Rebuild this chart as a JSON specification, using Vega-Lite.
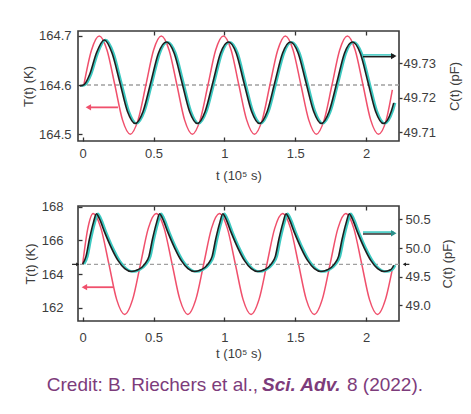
{
  "$schema": "https://vega.github.io/schema/vega-lite/v6.json",
  "background": "white",
  "padding": {"left": 21, "top": 29, "right": 0, "bottom": 0},
  "bounds": "flush",
  "spacing": 65,
  "config": {
    "font": "Liberation Sans",
    "view": {"stroke": "#3a3a3a", "strokeWidth": 1.6},
    "axis": {"domain": false, "grid": false, "labelOverlap": false, "labelFont": "Liberation Sans", "titleFont": "Liberation Sans", "labelFontSize": 13, "titleFontSize": 13, "labelColor": "#3d3d3d", "titleColor": "#3d3d3d", "tickColor": "#333333", "tickWidth": 1.3, "titleFontWeight": "normal"}
  },
  "datasets": {
    "topRef": [{"T": 164.6}],
    "topT": [
      {"t": 0.008, "T": 164.6}, {"t": 0.062, "T": 164.671}, {"t": 0.117, "T": 164.7}, {"t": 0.172, "T": 164.671}, {"t": 0.227, "T": 164.6}, {"t": 0.281, "T": 164.529}, {"t": 0.336, "T": 164.5}, {"t": 0.391, "T": 164.529},
      {"t": 0.446, "T": 164.6}, {"t": 0.5, "T": 164.671}, {"t": 0.555, "T": 164.7}, {"t": 0.61, "T": 164.671}, {"t": 0.665, "T": 164.6}, {"t": 0.719, "T": 164.529}, {"t": 0.774, "T": 164.5}, {"t": 0.829, "T": 164.529},
      {"t": 0.884, "T": 164.6}, {"t": 0.938, "T": 164.671}, {"t": 0.993, "T": 164.7}, {"t": 1.048, "T": 164.671}, {"t": 1.102, "T": 164.6}, {"t": 1.157, "T": 164.529}, {"t": 1.212, "T": 164.5}, {"t": 1.267, "T": 164.529},
      {"t": 1.321, "T": 164.6}, {"t": 1.376, "T": 164.671}, {"t": 1.43, "T": 164.7}, {"t": 1.485, "T": 164.671}, {"t": 1.54, "T": 164.6}, {"t": 1.595, "T": 164.529}, {"t": 1.649, "T": 164.5}, {"t": 1.704, "T": 164.529},
      {"t": 1.759, "T": 164.6}, {"t": 1.813, "T": 164.671}, {"t": 1.868, "T": 164.7}, {"t": 1.923, "T": 164.671}, {"t": 1.978, "T": 164.6}, {"t": 2.032, "T": 164.529}, {"t": 2.087, "T": 164.5}, {"t": 2.142, "T": 164.529},
      {"t": 2.185, "T": 164.59}
    ],
    "topC": [
      {"t": -0.02, "C": 49.7234}, {"t": 0.01, "C": 49.7238}, {"t": 0.05, "C": 49.7268}, {"t": 0.097, "C": 49.733}, {"t": 0.152, "C": 49.7368},
      {"t": 0.207, "C": 49.733}, {"t": 0.262, "C": 49.7245}, {"t": 0.316, "C": 49.716}, {"t": 0.371, "C": 49.7125}, {"t": 0.426, "C": 49.716}, {"t": 0.481, "C": 49.7245}, {"t": 0.535, "C": 49.733}, {"t": 0.59, "C": 49.7362},
      {"t": 0.645, "C": 49.733}, {"t": 0.7, "C": 49.7245}, {"t": 0.754, "C": 49.716}, {"t": 0.809, "C": 49.7125}, {"t": 0.864, "C": 49.716}, {"t": 0.919, "C": 49.7245}, {"t": 0.973, "C": 49.733}, {"t": 1.028, "C": 49.7362},
      {"t": 1.083, "C": 49.733}, {"t": 1.137, "C": 49.7245}, {"t": 1.192, "C": 49.716}, {"t": 1.247, "C": 49.7125}, {"t": 1.302, "C": 49.716}, {"t": 1.356, "C": 49.7245}, {"t": 1.411, "C": 49.733}, {"t": 1.465, "C": 49.7362},
      {"t": 1.52, "C": 49.733}, {"t": 1.575, "C": 49.7245}, {"t": 1.63, "C": 49.716}, {"t": 1.684, "C": 49.7125}, {"t": 1.739, "C": 49.716}, {"t": 1.794, "C": 49.7245}, {"t": 1.848, "C": 49.733}, {"t": 1.903, "C": 49.7362},
      {"t": 1.958, "C": 49.733}, {"t": 2.013, "C": 49.7245}, {"t": 2.067, "C": 49.716}, {"t": 2.122, "C": 49.7125}, {"t": 2.177, "C": 49.716}, {"t": 2.195, "C": 49.7185}
    ],
    "topArrT": [{"head": 0.04, "tail": 0.249, "T": 164.5545}],
    "topArrC": [{"head": 2.195, "tail": 1.978, "C": 49.7321}],
    "botRef": [{"T": 164.58}],
    "botT": [
      {"t": 0.0, "T": 164.6}, {"t": 0.036, "T": 166.7}, {"t": 0.073, "T": 167.6}, {"t": 0.129, "T": 166.72}, {"t": 0.185, "T": 164.6}, {"t": 0.24, "T": 162.48}, {"t": 0.296, "T": 161.6}, {"t": 0.352, "T": 162.48},
      {"t": 0.408, "T": 164.6}, {"t": 0.463, "T": 166.72}, {"t": 0.519, "T": 167.6}, {"t": 0.575, "T": 166.72}, {"t": 0.631, "T": 164.6}, {"t": 0.686, "T": 162.48}, {"t": 0.742, "T": 161.6}, {"t": 0.798, "T": 162.48},
      {"t": 0.854, "T": 164.6}, {"t": 0.909, "T": 166.72}, {"t": 0.965, "T": 167.6}, {"t": 1.021, "T": 166.72}, {"t": 1.077, "T": 164.6}, {"t": 1.132, "T": 162.48}, {"t": 1.188, "T": 161.6}, {"t": 1.244, "T": 162.48},
      {"t": 1.3, "T": 164.6}, {"t": 1.355, "T": 166.72}, {"t": 1.411, "T": 167.6}, {"t": 1.467, "T": 166.72}, {"t": 1.523, "T": 164.6}, {"t": 1.578, "T": 162.48}, {"t": 1.634, "T": 161.6}, {"t": 1.69, "T": 162.48},
      {"t": 1.746, "T": 164.6}, {"t": 1.801, "T": 166.72}, {"t": 1.857, "T": 167.6}, {"t": 1.913, "T": 166.72}, {"t": 1.969, "T": 164.6}, {"t": 2.024, "T": 162.48}, {"t": 2.08, "T": 161.6}, {"t": 2.136, "T": 162.48},
      {"t": 2.185, "T": 164.3}
    ],
    "botC": [
      {"t": 0.0, "C": 49.72}, {"t": 0.024, "C": 49.86}, {"t": 0.047, "C": 50.15}, {"t": 0.076, "C": 50.45}, {"t": 0.097, "C": 50.6},
      {"t": 0.117, "C": 50.52}, {"t": 0.156, "C": 50.27}, {"t": 0.203, "C": 50.0}, {"t": 0.25, "C": 49.78}, {"t": 0.297, "C": 49.64}, {"t": 0.343, "C": 49.59}, {"t": 0.389, "C": 49.62}, {"t": 0.438, "C": 49.72}, {"t": 0.468, "C": 49.86}, {"t": 0.492, "C": 50.15}, {"t": 0.522, "C": 50.45}, {"t": 0.543, "C": 50.6},
      {"t": 0.563, "C": 50.52}, {"t": 0.602, "C": 50.27}, {"t": 0.649, "C": 50.0}, {"t": 0.696, "C": 49.78}, {"t": 0.743, "C": 49.64}, {"t": 0.789, "C": 49.59}, {"t": 0.835, "C": 49.62}, {"t": 0.884, "C": 49.72}, {"t": 0.914, "C": 49.86}, {"t": 0.938, "C": 50.15}, {"t": 0.968, "C": 50.45}, {"t": 0.989, "C": 50.6},
      {"t": 1.009, "C": 50.52}, {"t": 1.048, "C": 50.27}, {"t": 1.095, "C": 50.0}, {"t": 1.142, "C": 49.78}, {"t": 1.189, "C": 49.64}, {"t": 1.235, "C": 49.59}, {"t": 1.281, "C": 49.62}, {"t": 1.33, "C": 49.72}, {"t": 1.36, "C": 49.86}, {"t": 1.384, "C": 50.15}, {"t": 1.414, "C": 50.45}, {"t": 1.435, "C": 50.6},
      {"t": 1.455, "C": 50.52}, {"t": 1.494, "C": 50.27}, {"t": 1.541, "C": 50.0}, {"t": 1.588, "C": 49.78}, {"t": 1.635, "C": 49.64}, {"t": 1.681, "C": 49.59}, {"t": 1.727, "C": 49.62}, {"t": 1.776, "C": 49.72}, {"t": 1.806, "C": 49.86}, {"t": 1.83, "C": 50.15}, {"t": 1.86, "C": 50.45}, {"t": 1.881, "C": 50.6},
      {"t": 1.901, "C": 50.52}, {"t": 1.94, "C": 50.27}, {"t": 1.987, "C": 50.0}, {"t": 2.034, "C": 49.78}, {"t": 2.081, "C": 49.64}, {"t": 2.127, "C": 49.59}, {"t": 2.173, "C": 49.62}, {"t": 2.195, "C": 49.7}
    ],
    "botArrT": [{"head": 0.012, "tail": 0.214, "T": 163.22}],
    "botArrC": [{"head": 2.195, "tail": 1.978, "C": 50.259}],
    "botMarkL": [{"head": -0.035, "tail": -0.075, "T": 164.58}],
    "botMarkR": [{"head": 2.27, "tail": 2.305, "T": 164.58}]
  },
  "vconcat": [
    {
      "width": 321, "height": 110,
      "resolve": {"scale": {"y": "independent"}, "axis": {"x": "independent"}},
      "layer": [
        {"layer": [
          {"data": {"name": "topRef"}, "mark": {"type": "rule", "color": "#a0a0a0", "strokeDash": [4, 3], "strokeWidth": 1.3},
           "encoding": {"y": {"field": "T", "type": "quantitative", "scale": {"domain": [164.486, 164.71], "nice": false, "zero": false},
             "axis": {"orient": "left", "values": [164.5, 164.6, 164.7], "format": ".1f", "labelOverlap": false, "tickSize": -4, "labelPadding": 11, "titlePadding": 3, "title": "T(t) (K)"}}}},
          {"data": {"name": "topT"}, "mark": {"type": "line", "color": "#f0506c", "strokeWidth": 1.5, "interpolate": "monotone"},
           "encoding": {"x": {"field": "t", "type": "quantitative", "scale": {"domain": [-0.033, 2.232], "nice": false, "zero": false},
             "axis": {"orient": "bottom", "values": [0, 0.5, 1, 1.5, 2], "format": "~g", "labelOverlap": false, "tickSize": -4, "labelPadding": 10, "titlePadding": 9, "title": "t (10⁵ s)"}},
             "y": {"field": "T", "type": "quantitative"}}},
          {"data": {"name": "topArrT"}, "mark": {"type": "rule", "color": "#f0506c", "strokeWidth": 1.8},
           "encoding": {"x": {"field": "head", "type": "quantitative"}, "x2": {"field": "tail"}, "y": {"field": "T", "type": "quantitative"}}},
          {"data": {"name": "topArrT"}, "mark": {"type": "point", "shape": "triangle-left", "filled": true, "opacity": 1, "color": "#f0506c", "size": 40},
           "encoding": {"x": {"field": "head", "type": "quantitative"}, "y": {"field": "T", "type": "quantitative"}}}
        ]},
        {"layer": [
          {"data": {"name": "topC"}, "mark": {"type": "line", "color": "#3cc9c1", "strokeWidth": 2.2, "xOffset": 1.5, "interpolate": "monotone"},
           "encoding": {"x": {"field": "t", "type": "quantitative", "axis": {"orient": "top", "values": [0.5, 1, 1.5, 2], "labels": false, "title": null, "tickSize": -4}},
             "y": {"field": "C", "type": "quantitative", "scale": {"domain": [49.7074, 49.7394], "nice": false, "zero": false},
               "axis": {"orient": "right", "values": [49.71, 49.72, 49.73], "format": ".2f", "labelOverlap": false, "tickSize": 3, "labelPadding": 1, "titlePadding": 13, "title": "C(t) (pF)", "titleAngle": 270, "titleBaseline": "top"}}}},
          {"data": {"name": "topC"}, "mark": {"type": "line", "color": "#1e1e1e", "strokeWidth": 1.6, "interpolate": "monotone"},
           "encoding": {"x": {"field": "t", "type": "quantitative"}, "y": {"field": "C", "type": "quantitative"}}},
          {"data": {"name": "topArrC"}, "mark": {"type": "rule", "color": "#3cc9c1", "strokeWidth": 1.5, "yOffset": -1.2},
           "encoding": {"x": {"field": "tail", "type": "quantitative"}, "x2": {"field": "head"}, "y": {"field": "C", "type": "quantitative"}}},
          {"data": {"name": "topArrC"}, "mark": {"type": "rule", "color": "#1e1e1e", "strokeWidth": 1.5, "yOffset": 0.6},
           "encoding": {"x": {"field": "tail", "type": "quantitative"}, "x2": {"field": "head"}, "y": {"field": "C", "type": "quantitative"}}},
          {"data": {"name": "topArrC"}, "mark": {"type": "point", "shape": "triangle-right", "filled": true, "opacity": 1, "color": "#1e1e1e", "size": 40},
           "encoding": {"x": {"field": "head", "type": "quantitative"}, "y": {"field": "C", "type": "quantitative"}}}
        ]}
      ]
    },
    {
      "width": 321, "height": 115,
      "resolve": {"scale": {"y": "independent"}, "axis": {"x": "independent"}},
      "layer": [
        {"layer": [
          {"data": {"name": "botT"}, "mark": {"type": "line", "color": "#f0506c", "strokeWidth": 1.5, "interpolate": "monotone"},
           "encoding": {"x": {"field": "t", "type": "quantitative", "scale": {"domain": [-0.033, 2.232], "nice": false, "zero": false},
             "axis": {"orient": "bottom", "values": [0, 0.5, 1, 1.5, 2], "format": "~g", "labelOverlap": false, "tickSize": -4, "labelPadding": 14, "titlePadding": 3, "title": "t (10⁵ s)"}},
             "y": {"field": "T", "type": "quantitative", "scale": {"domain": [161.21, 168.05], "nice": false, "zero": false},
             "axis": {"orient": "left", "tickCount": 4, "format": "d", "labelOverlap": false, "labelBound": false, "labelSeparation": 0, "tickSize": -4, "labelPadding": 19, "titlePadding": 4, "title": "T(t) (K)"}}}},
          {"data": {"name": "botRef"}, "mark": {"type": "rule", "color": "#a0a0a0", "strokeDash": [4, 3], "strokeWidth": 1.3},
           "encoding": {"y": {"field": "T", "type": "quantitative"}}},
          {"data": {"name": "botArrT"}, "mark": {"type": "rule", "color": "#f0506c", "strokeWidth": 1.8},
           "encoding": {"x": {"field": "head", "type": "quantitative"}, "x2": {"field": "tail"}, "y": {"field": "T", "type": "quantitative"}}},
          {"data": {"name": "botArrT"}, "mark": {"type": "point", "shape": "triangle-left", "filled": true, "opacity": 1, "color": "#f0506c", "size": 40},
           "encoding": {"x": {"field": "head", "type": "quantitative"}, "y": {"field": "T", "type": "quantitative"}}},
          {"data": {"name": "botMarkL"}, "mark": {"type": "rule", "color": "#1e1e1e", "strokeWidth": 1.2},
           "encoding": {"x": {"field": "tail", "type": "quantitative"}, "x2": {"field": "head"}, "y": {"field": "T", "type": "quantitative"}}},
          {"data": {"name": "botMarkL"}, "mark": {"type": "point", "shape": "triangle-right", "filled": true, "opacity": 1, "color": "#1e1e1e", "size": 14},
           "encoding": {"x": {"field": "head", "type": "quantitative"}, "y": {"field": "T", "type": "quantitative"}}},
          {"data": {"name": "botMarkR"}, "mark": {"type": "rule", "color": "#1e1e1e", "strokeWidth": 1.2},
           "encoding": {"x": {"field": "head", "type": "quantitative"}, "x2": {"field": "tail"}, "y": {"field": "T", "type": "quantitative"}}},
          {"data": {"name": "botMarkR"}, "mark": {"type": "point", "shape": "triangle-left", "filled": true, "opacity": 1, "color": "#1e1e1e", "size": 14},
           "encoding": {"x": {"field": "head", "type": "quantitative"}, "y": {"field": "T", "type": "quantitative"}}}
        ]},
        {"layer": [
          {"data": {"name": "botC"}, "mark": {"type": "line", "color": "#3cc9c1", "strokeWidth": 2.4, "xOffset": 1.5, "interpolate": "monotone"},
           "encoding": {"x": {"field": "t", "type": "quantitative", "axis": {"orient": "top", "values": [0.5, 1, 1.5, 2], "labels": false, "title": null, "tickSize": -4}},
             "y": {"field": "C", "type": "quantitative", "scale": {"domain": [48.725, 50.736], "nice": false, "zero": false},
               "axis": {"orient": "right", "tickCount": 4, "format": ".1f", "labelOverlap": false, "labelBound": false, "labelSeparation": 0, "tickSize": 3, "labelPadding": 3, "titlePadding": 11, "title": "C(t) (pF)", "titleAngle": 270, "titleBaseline": "top"}}}},
          {"data": {"name": "botC"}, "mark": {"type": "line", "color": "#1e1e1e", "strokeWidth": 1.6, "interpolate": "monotone"},
           "encoding": {"x": {"field": "t", "type": "quantitative"}, "y": {"field": "C", "type": "quantitative"}}},
          {"data": {"name": "botArrC"}, "mark": {"type": "rule", "color": "#3cc9c1", "strokeWidth": 1.6, "yOffset": -1.2},
           "encoding": {"x": {"field": "tail", "type": "quantitative"}, "x2": {"field": "head"}, "y": {"field": "C", "type": "quantitative"}}},
          {"data": {"name": "botArrC"}, "mark": {"type": "rule", "color": "#1e1e1e", "strokeWidth": 1.4, "yOffset": 0.7},
           "encoding": {"x": {"field": "tail", "type": "quantitative"}, "x2": {"field": "head"}, "y": {"field": "C", "type": "quantitative"}}},
          {"data": {"name": "botArrC"}, "mark": {"type": "point", "shape": "triangle-right", "filled": true, "opacity": 1, "color": "#2a8f8a", "size": 40},
           "encoding": {"x": {"field": "head", "type": "quantitative"}, "y": {"field": "C", "type": "quantitative"}}}
        ]}
      ]
    },
    {
      "width": 321, "height": 2,
      "view": {"stroke": null},
      "layer": [
        {"data": {"values": [{"s": "Credit: B. Riechers et al.,"}]}, "mark": {"type": "text", "align": "right", "baseline": "middle", "dx": 19.5, "dy": -2, "font": "Liberation Sans", "fontSize": 19, "color": "#7d3c7b"}, "encoding": {"text": {"field": "s"}}},
        {"data": {"values": [{"s": "Sci. Adv."}]}, "mark": {"type": "text", "align": "left", "baseline": "middle", "dx": 23.5, "dy": -2, "font": "Liberation Sans", "fontSize": 19, "fontWeight": "bold", "fontStyle": "italic", "color": "#7d3c7b"}, "encoding": {"text": {"field": "s"}}},
        {"data": {"values": [{"s": "8 (2022)."}]}, "mark": {"type": "text", "align": "left", "baseline": "middle", "dx": 108.5, "dy": -2, "font": "Liberation Sans", "fontSize": 19, "color": "#7d3c7b"}, "encoding": {"text": {"field": "s"}}}
      ]
    }
  ]
}
